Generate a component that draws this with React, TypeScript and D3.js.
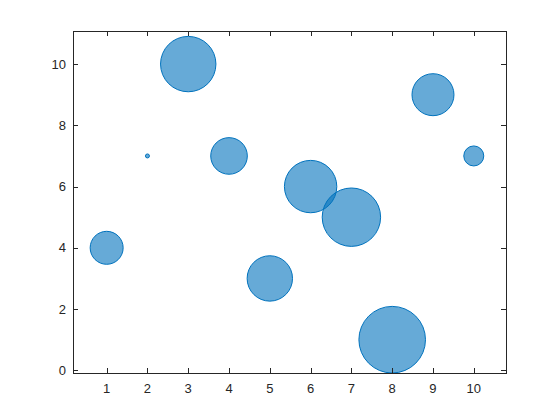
import React from "react";
import * as d3 from "d3";

const xValues = [1, 2, 3, 4, 5, 6, 7, 8, 9, 10];
const yValues = [4, 7, 10, 7, 3, 6, 5, 1, 9, 7];
const sizeValues = [268, 0, 763, 331, 511, 682, 849, 1105, 437, 96];
const xTicks = [1, 2, 3, 4, 5, 6, 7, 8, 9, 10];
const yTicks = [0, 2, 4, 6, 8, 10];

const W = 560, H = 420;
const left = 73, right = 506, top = 31, bottom = 373;

export default function App() {
  const x = d3.scaleLinear().domain([0.175, 10.79]).range([left, right]);
  const y = d3.scaleLinear().domain([-0.088, 11.08]).range([bottom, top]);
  const areaScale = d3
    .scaleLinear()
    .domain([d3.min(sizeValues)!, d3.max(sizeValues)!])
    .range([2 * 2, 33.3 * 33.3]);
  const r = (s: number) => Math.sqrt(areaScale(s));
  const ink = "#262626";
  const tl = 5;
  return (
    <svg width={W} height={H} style={{ position: "absolute", left: 0, top: 0, background: "#fff" }}>
      <rect x={0} y={0} width={W} height={H} fill="#fff" />
      <g>
        {xValues.map((xv, i) => (
          <circle
            key={i}
            cx={x(xv)}
            cy={y(yValues[i])}
            r={r(sizeValues[i])}
            fill="#0072BD"
            fillOpacity={0.6}
            stroke="#0072BD"
            strokeWidth={1}
          />
        ))}
      </g>
      <g stroke={ink} strokeWidth={1} fill="none" shapeRendering="crispEdges">
        <rect x={left} y={top} width={right - left} height={bottom - top} />
        {xTicks.map((t) => (
          <g key={"x" + t}>
            <line x1={Math.round(x(t)) + 0.5} x2={Math.round(x(t)) + 0.5} y1={bottom} y2={bottom - tl} />
            <line x1={Math.round(x(t)) + 0.5} x2={Math.round(x(t)) + 0.5} y1={top} y2={top + tl} />
          </g>
        ))}
        {yTicks.map((t) => (
          <g key={"y" + t}>
            <line x1={left} x2={left + tl} y1={Math.round(y(t)) + 0.5} y2={Math.round(y(t)) + 0.5} />
            <line x1={right} x2={right - tl} y1={Math.round(y(t)) + 0.5} y2={Math.round(y(t)) + 0.5} />
          </g>
        ))}
      </g>
      <g fill={ink} fontFamily="'Liberation Sans', Arial, sans-serif" fontSize={13}>
        {xTicks.map((t) => (
          <text key={"xl" + t} x={x(t)} y={bottom + 20} textAnchor="middle">
            {t}
          </text>
        ))}
        {yTicks.map((t) => (
          <text key={"yl" + t} x={left - 7} y={y(t)} dy="0.35em" textAnchor="end">
            {t}
          </text>
        ))}
      </g>
    </svg>
  );
}
